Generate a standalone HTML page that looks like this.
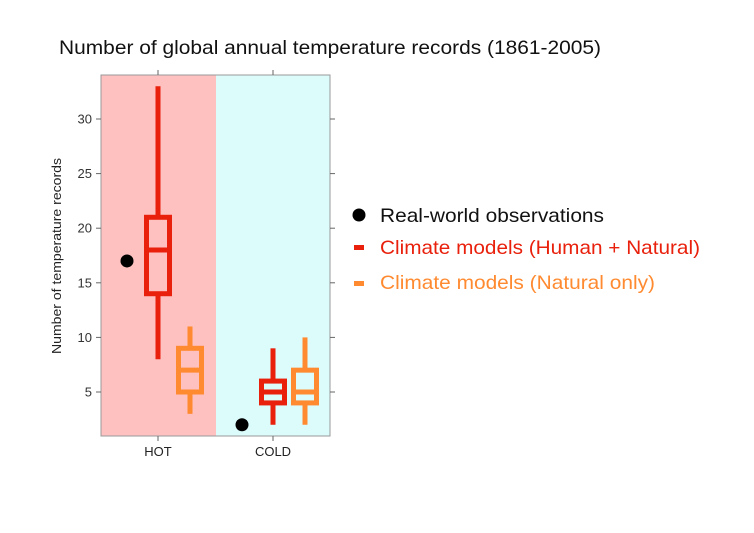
<!DOCTYPE html>
<html><head><meta charset="utf-8"><style>
body{margin:0;background:#fff;}
svg{display:block;font-family:"Liberation Sans",sans-serif;}
</style></head><body>
<svg id="chart" width="754" height="533">
<text x="59" y="54" font-size="19.5" fill="#111" textLength="542" lengthAdjust="spacingAndGlyphs">Number of global annual temperature records (1861-2005)</text>
<rect x="101" y="75" width="115" height="361" fill="#ffc0c0"/>
<rect x="216" y="75" width="114" height="361" fill="#dcfcfc"/>
<rect x="101" y="75" width="229" height="361" fill="none" stroke="#999" stroke-width="1"/>
<g id="axes"></g>
<g id="marks"></g>
<text transform="translate(61,256) rotate(-90)" text-anchor="middle" font-size="12.5" fill="#222" textLength="196" lengthAdjust="spacingAndGlyphs">Number of temperature records</text>
<g>
<circle cx="359" cy="215" r="6.5" fill="#000"/>
<text x="380" y="222" font-size="19.5" fill="#111" textLength="224" lengthAdjust="spacingAndGlyphs">Real-world observations</text>
<rect x="354" y="245" width="10" height="5" fill="#e8200c"/>
<text x="380" y="254" font-size="19.5" fill="#e8200c" textLength="320" lengthAdjust="spacingAndGlyphs">Climate models (Human + Natural)</text>
<rect x="354" y="281" width="10" height="5" fill="#ff8a30"/>
<text x="380" y="289" font-size="19.5" fill="#ff8a30" textLength="275" lengthAdjust="spacingAndGlyphs">Climate models (Natural only)</text>
</g>
</svg>
<script>
const categories=["HOT","COLD"];
const observations=[17,2];
const humanMin=[8,2], humanQ1=[14,4], humanMed=[18,5], humanQ3=[21,6], humanMax=[33,9];
const natMin=[3,2], natQ1=[5,4], natMed=[7,5], natQ3=[9,7], natMax=[11,10];
const yTicks=[5,10,15,20,25,30];

const NS="http://www.w3.org/2000/svg";
const y=v=>392-(v-5)*10.92;
const x=i=>158+i*115;
const axes=document.getElementById('axes'), marks=document.getElementById('marks');
function mk(tag,attrs,parent){const e=document.createElementNS(NS,tag);for(const k in attrs)e.setAttribute(k,attrs[k]);parent.appendChild(e);return e;}
yTicks.forEach(t=>{
  const l=mk('line',{x1:96,x2:101,y1:y(t),y2:y(t),stroke:'#666'},axes);
  
  
  const r=mk('line',{x1:330,x2:335,y1:y(t),y2:y(t),stroke:'#666'},axes);
  
  
  const tx=mk('text',{x:92,y:y(t)+4.5,'text-anchor':'end','font-size':13,fill:'#333'},axes);
  tx.textContent=t;
  
  
});
categories.forEach((c,i)=>{
  const b=mk('line',{x1:x(i),x2:x(i),y1:436,y2:441,stroke:'#666'},axes);
  
  
  const tp=mk('line',{x1:x(i),x2:x(i),y1:70,y2:75,stroke:'#666'},axes);
  
  
  const tx=mk('text',{x:x(i),y:456,'text-anchor':'middle','font-size':13,fill:'#222'},axes);
  tx.textContent=c;
  
  
});
function box(cx,mn,q1,md,q3,mx,col,name){
  const g=mk('g',{},marks);
  
  
  mk('line',{x1:cx,x2:cx,y1:y(mx),y2:y(q3),stroke:col,'stroke-width':5},g);
  mk('line',{x1:cx,x2:cx,y1:y(q1),y2:y(mn),stroke:col,'stroke-width':5},g);
  mk('rect',{x:cx-11.5,y:y(q3),width:23,height:y(q1)-y(q3),fill:'none',stroke:col,'stroke-width':5},g);
  mk('line',{x1:cx-11.5,x2:cx+11.5,y1:y(md),y2:y(md),stroke:col,'stroke-width':5},g);
}
categories.forEach((c,i)=>{
  const d=mk('circle',{cx:x(i)-31,cy:y(observations[i]),r:6.5,fill:'#000'},marks);
  
  
  box(x(i),humanMin[i],humanQ1[i],humanMed[i],humanQ3[i],humanMax[i],'#e8200c','box-human-natural-'+c.toLowerCase());
  box(x(i)+32,natMin[i],natQ1[i],natMed[i],natQ3[i],natMax[i],'#ff8a30','box-natural-'+c.toLowerCase());
});
</script>
</body></html>
